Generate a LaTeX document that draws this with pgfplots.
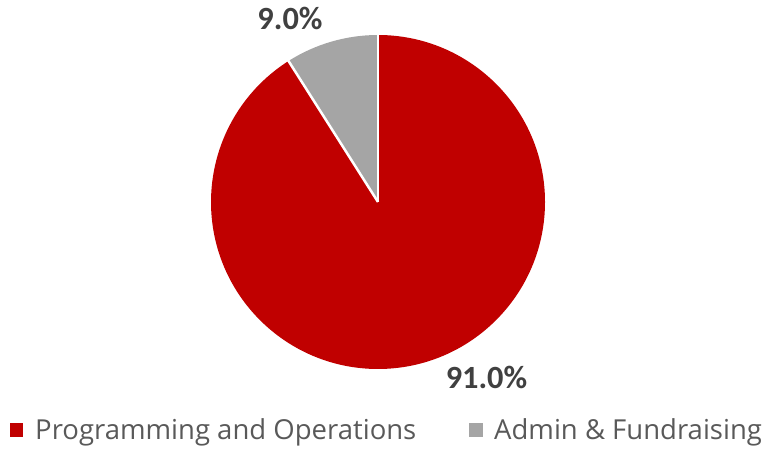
\documentclass[border=0pt]{standalone}
\usepackage{pgfplots}
\pgfplotsset{compat=1.18}
\usepackage{fontspec}
\setmainfont{Carlito}
\newfontfamily\legendfont{Open Sans}
\definecolor{progred}{HTML}{C00000}
\definecolor{admingrey}{HTML}{A5A5A5}
\definecolor{labelgrey}{HTML}{404040}
\definecolor{legendgrey}{HTML}{595959}

\begin{document}
\begin{tikzpicture}
% shares in percent
\def\valProg{91.0}
\def\valAdmin{9.0}
\pgfmathsetmacro\angAdmin{90+3.6*\valAdmin}
\begin{axis}[
  width=768bp, height=450bp, scale only axis,
  xmin=0, xmax=768, ymin=0, ymax=450,
  hide axis, clip=false,
]
\path (axis cs:0,0) rectangle (axis cs:768,450);
% slices
\fill[progred] (axis cs:378,248) -- (axis cs:378,415)
  arc[start angle=90, end angle=-270+3.6*\valAdmin, radius=167bp] -- cycle;
\fill[admingrey] (axis cs:378,248) -- (axis cs:378,415)
  arc[start angle=90, end angle=\angAdmin, radius=167bp] -- cycle;
\draw[white, line width=2.5bp] (axis cs:378,248) -- (axis cs:378,416);
\draw[white, line width=2.5bp] (axis cs:378,248) -- ++(\angAdmin:168bp);
% data labels
\node[font=\bfseries\fontsize{32.5}{32.5}\selectfont, text=labelgrey]
  at (axis cs:290,432) {\valAdmin\%};
\node[font=\bfseries\fontsize{32.5}{32.5}\selectfont, text=labelgrey]
  at (axis cs:486.5,73) {\valProg\%};
% legend
\fill[progred] (axis cs:10,13) rectangle (axis cs:23,27);
\node[anchor=base west, inner sep=0pt, text=legendgrey,
  font=\legendfont\fontsize{27.6}{27.6}\selectfont]
  at (axis cs:35,10) {Programming and Operations};
\fill[admingrey] (axis cs:469,13) rectangle (axis cs:483,27);
\node[anchor=base west, inner sep=0pt, text=legendgrey,
  font=\legendfont\fontsize{27.6}{27.6}\selectfont]
  at (axis cs:494,10) {Admin \& Fundraising};
\end{axis}
\end{tikzpicture}
\end{document}
